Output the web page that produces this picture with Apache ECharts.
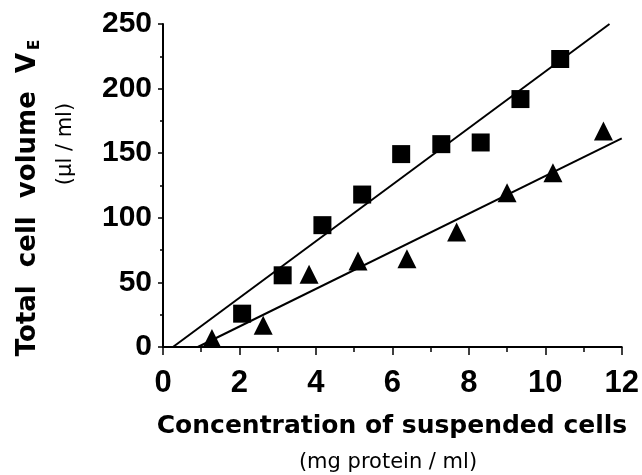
<!DOCTYPE html>
<html>
<head>
<meta charset="utf-8">
<script src="https://cdn.jsdelivr.net/npm/echarts@6/dist/echarts.min.js"></script>
<style>
  html, body { margin: 0; padding: 0; background: #fff; }
  #chart { width: 642px; height: 475px; }
</style>
</head>
<body>
<div id="chart"></div>
<script>
// Packed-cell volume vs. concentration of suspended cells
const squareX = [2.07, 3.13, 4.17, 5.21, 6.23, 7.28, 8.31, 9.35, 10.39];
const squareY = [25.8, 55.5, 94.3, 118, 149.3, 157, 158.3, 191.9, 222.9];
const triangleX = [1.28, 2.62, 3.82, 5.1, 6.38, 7.68, 9.0, 10.2, 11.52];
const triangleY = [6.5, 16.8, 56.3, 66.6, 68.4, 89.1, 119.3, 134.8, 167.1];

// Regression lines, given by their end points
const squareFitX = [0.26, 11.68];
const squareFitY = [0, 250];
const triangleFitX = [0.91, 12];
const triangleFitY = [0, 161.4];

const xTicks = [0, 2, 4, 6, 8, 10, 12];
const yTicks = [0, 50, 100, 150, 200, 250];

const pairs = (xs, ys) => xs.map((x, i) => [x, ys[i]]);

const axisStyle = { lineStyle: { color: '#000', width: 2 } };

const chart = echarts.init(document.getElementById('chart'), null, { renderer: 'canvas' });
chart.setOption({
  backgroundColor: '#fff',
  animation: false,
  grid: { left: 163, right: 18, top: 24, bottom: 128, containLabel: false },
  xAxis: {
    type: 'value',
    min: xTicks[0], max: xTicks[xTicks.length - 1], interval: 2,
    axisLine: axisStyle,
    axisTick: { show: true, inside: false, length: 8, lineStyle: { color: '#000', width: 1.5 } },
    minorTick: { show: true, splitNumber: 2, length: 5, lineStyle: { color: '#000', width: 1.5 } },
    splitLine: { show: false },
    axisLabel: {
      margin: 21, color: '#000', fontSize: 31, fontWeight: 'bold',
      fontFamily: '"Liberation Sans", sans-serif'
    }
  },
  yAxis: {
    type: 'value',
    min: yTicks[0], max: yTicks[yTicks.length - 1], interval: 50,
    axisLine: axisStyle,
    axisTick: { show: true, inside: false, length: 5, lineStyle: { color: '#000', width: 1.5 } },
    minorTick: { show: true, splitNumber: 2, length: 3, lineStyle: { color: '#000', width: 1.5 } },
    splitLine: { show: false },
    axisLabel: {
      margin: 11, color: '#000', fontSize: 30, fontWeight: 'bold',
      fontFamily: '"Liberation Sans", sans-serif'
    }
  },
  graphic: [
    {
      type: 'text', x: 28, y: 198, rotation: Math.PI / 2,
      style: {
        text: 'Total  cell  volume  V{sub|E}',
        fontFamily: 'DejaVu Sans', fontWeight: 'bold', fontSize: 26, fill: '#000',
        align: 'center', verticalAlign: 'middle',
        rich: { sub: { fontFamily: 'DejaVu Sans', fontWeight: 'bold', fontSize: 15, padding: [14, 0, 0, 3] } }
      }
    },
    {
      type: 'text', x: 66, y: 144, rotation: Math.PI / 2,
      style: {
        text: '(\u00b5l / ml)',
        fontFamily: 'DejaVu Sans', fontSize: 21, fill: '#000',
        align: 'center', verticalAlign: 'middle'
      }
    },
    {
      type: 'text', x: 392, y: 426,
      style: {
        text: 'Concentration of suspended cells',
        fontFamily: 'DejaVu Sans', fontWeight: 'bold', fontSize: 25, fill: '#000',
        align: 'center', verticalAlign: 'middle'
      }
    },
    {
      type: 'text', x: 388, y: 463,
      style: {
        text: '(mg protein / ml)',
        fontFamily: 'DejaVu Sans', fontSize: 21, fill: '#000',
        align: 'center', verticalAlign: 'middle'
      }
    }
  ],
  series: [
    {
      type: 'line', data: pairs(squareFitX, squareFitY),
      showSymbol: false, lineStyle: { color: '#000', width: 2 }, silent: true, z: 2
    },
    {
      type: 'line', data: pairs(triangleFitX, triangleFitY),
      showSymbol: false, lineStyle: { color: '#000', width: 2 }, silent: true, z: 2
    },
    {
      type: 'scatter', data: pairs(squareX, squareY),
      symbol: 'rect', symbolSize: 18, itemStyle: { color: '#000', opacity: 1 }, z: 3
    },
    {
      type: 'scatter', data: pairs(triangleX, triangleY),
      symbol: 'triangle', symbolSize: 19, itemStyle: { color: '#000', opacity: 1 }, z: 3
    }
  ]
});
</script>
</body>
</html>
